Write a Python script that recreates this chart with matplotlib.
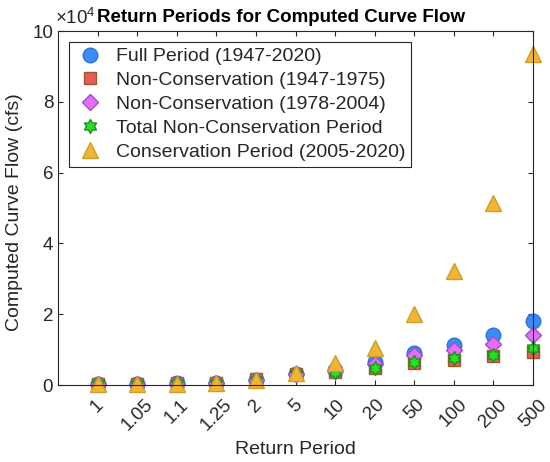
import matplotlib
matplotlib.use("Agg")
import matplotlib.pyplot as plt
import numpy as np

plt.rcParams['font.family'] = ['Liberation Sans', 'DejaVu Sans']
plt.rcParams['mathtext.fontset'] = 'custom'
plt.rcParams['mathtext.rm'] = 'Liberation Sans'
plt.rcParams['mathtext.it'] = 'Liberation Sans'

# ---- data (flow in units of 1e4 cfs) ----
return_periods = ['1', '1.05', '1.1', '1.25', '2', '5', '10', '20', '50', '100', '200', '500']
full_period = [0.03, 0.04, 0.05, 0.07, 0.15, 0.32, 0.42, 0.64, 0.90, 1.13, 1.40, 1.80]
noncons_47_75 = [0.03, 0.04, 0.05, 0.07, 0.16, 0.30, 0.38, 0.48, 0.62, 0.72, 0.82, 0.92]
noncons_78_04 = [0.02, 0.03, 0.04, 0.06, 0.14, 0.30, 0.40, 0.58, 0.84, 1.00, 1.15, 1.41]
total_noncons = [0.03, 0.04, 0.05, 0.07, 0.15, 0.30, 0.38, 0.48, 0.64, 0.76, 0.86, 1.05]
conservation = [0.02, 0.03, 0.04, 0.06, 0.14, 0.34, 0.62, 1.05, 2.00, 3.22, 5.13, 9.35]
series_labels = ['Full Period (1947-2020)', 'Non-Conservation (1947-1975)',
                 'Non-Conservation (1978-2004)', 'Total Non-Conservation Period',
                 'Conservation Period (2005-2020)']

# hexagram marker
ang_o = np.deg2rad(90 + np.arange(6) * 60)
ang_i = ang_o + np.deg2rad(30)
r_in = 1 / np.sqrt(3)
hexagram = []
for a, b in zip(ang_o, ang_i):
    hexagram.append((np.cos(a), np.sin(a)))
    hexagram.append((r_in * np.cos(b), r_in * np.sin(b)))
hexagram.append(hexagram[0])

W, H = 550, 462
fig = plt.figure(figsize=(W / 100, H / 100), dpi=100)
ax = fig.add_axes([58 / W, 1 - 385 / H, (533 - 58) / W, (385 - 31) / H])

x = np.arange(1, len(return_periods) + 1)
styles = [
    dict(marker='o', ms=10.5, mfc='#3A8BF2', mec='#2C74DA'),
    dict(marker='s', ms=8.6, mfc='#E85A55', mec='#9A5A2E'),
    dict(marker='D', ms=8.2, mfc='#E46EF4', mec='#9C50CC'),
    dict(marker=hexagram, ms=10, mfc='#25E025', mec='#1F8F1F'),
    dict(marker='^', ms=12, mfc='#F5B335', mec='#C8A22A'),
]
data = [full_period, noncons_47_75, noncons_78_04, total_noncons, conservation]
for d, st, lab in zip(data, styles, series_labels):
    ax.plot(x, d, linestyle='none', mew=1.0, label=lab, clip_on=False, **st)

dark = '#262626'
ax.set_xlim(0, 12)
ax.set_ylim(0, 10)
ax.set_xticks(x)
ax.set_xticklabels(return_periods, rotation=45, ha='center', va='top')
ax.set_yticks([0, 2, 4, 6, 8, 10])
ax.tick_params(axis='both', direction='in', length=3.5, width=0.8, colors=dark,
               labelsize=13.5, top=True, right=True)
ax.tick_params(axis='x', pad=8)
ax.tick_params(axis='y', pad=3.5)
for sp in ax.spines.values():
    sp.set_color(dark)
    sp.set_linewidth(0.8)

fig.text(295 / W, 1 - 449 / H, 'Return Period', ha='center', va='center',
         fontsize=14, color=dark)
fig.text(15 / W, 1 - 212 / H, 'Computed Curve Flow (cfs)', ha='center', va='center',
         rotation=90, fontsize=14, color=dark)
fig.text(281 / W, 1 - 17 / H, 'Return Periods for Computed Curve Flow', ha='center',
         va='center', fontsize=13.5, fontweight='bold', color='black')
fig.text(55 / W, 1 - 24 / H, r'$\times10^{4}$', ha='left', va='baseline',
         fontsize=13.5, color=dark)

leg = ax.legend(loc='upper left', bbox_to_anchor=(69 / W, 1 - 42 / H),
                bbox_transform=fig.transFigure, borderaxespad=0, fontsize=14,
                fancybox=False, framealpha=1, edgecolor=dark, borderpad=0.3,
                labelspacing=0.32, handlelength=1.6, handletextpad=0.5)
leg.get_frame().set_linewidth(0.8)
for t in leg.get_texts():
    t.set_color(dark)

fig.savefig('out.png', dpi=100)
